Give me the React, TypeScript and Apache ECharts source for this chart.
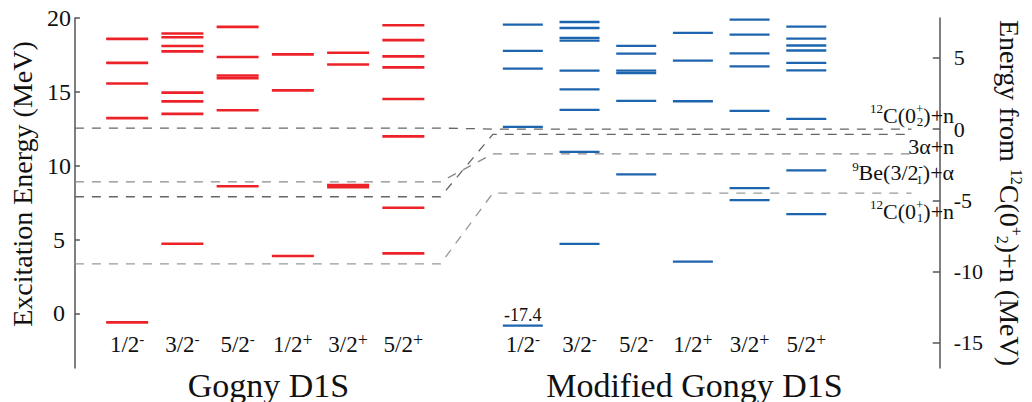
import React, { useEffect, useRef } from 'react';
import * as echarts from 'echarts';

// ---------------- data ----------------
const spinLabels = ['1/2{sm|-}', '3/2{sm|-}', '5/2{sm|-}', '1/2{sp|+}', '3/2{sp|+}', '5/2{sp|+}'];
const groupTitles = ['Gogny D1S', 'Modified Gongy D1S'];

// Gogny D1S: excitation energy (MeV), left axis
const gogny_1_2m = [18.59, 16.96, 15.57, 13.22, -0.6];
const gogny_3_2m = [18.95, 18.7, 18.1, 17.74, 14.95, 14.36, 13.51, 4.72];
const gogny_5_2m = [19.4, 17.36, 16.11, 15.93, 13.76, 8.61];
const gogny_1_2p = [17.54, 15.1, 3.89];
const gogny_3_2p = [17.65, 16.85, 8.69, 8.54];
const gogny_5_2p = [19.51, 18.5, 17.4, 16.66, 14.52, 11.99, 7.16, 4.07];
const gognyLevels = [gogny_1_2m, gogny_3_2m, gogny_5_2m, gogny_1_2p, gogny_3_2p, gogny_5_2p];

// Modified Gogny D1S: energy from 12C(0+2)+n (MeV), right axis
const mod_1_2m = [7.32, 5.49, 4.24, 0.16, -17.4];
const mod_3_2m = [7.51, 7.09, 6.4, 6.21, 4.1, 2.78, 1.34, -1.6, -8.05];
const mod_5_2m = [5.84, 5.29, 4.1, 3.93, 1.97, -3.18];
const mod_1_2p = [6.75, 4.8, 1.95, -9.3];
const mod_3_2p = [7.67, 6.63, 5.31, 4.4, 1.27, -4.15, -4.99];
const mod_5_2p = [7.18, 6.35, 5.86, 5.51, 4.64, 4.12, 0.72, -2.9, -5.96];
const modifiedLevels = [mod_1_2m, mod_3_2m, mod_5_2m, mod_1_2p, mod_3_2p, mod_5_2p];

// thresholds
const thresholdNames = [
  '{sup|12}C(0{sup|+}{subz|2})+n',
  '3α+n',
  '{sup|9}Be(3/2{sup|-}{subz|1})+α',
  '{sup|12}C(0{sup|+}{subz|1})+n',
];
const thresholdGogny = [12.55, 7.9, 8.91, 3.36];
const thresholdModified = [0, -0.37, -1.74, -4.5];

const leftTicks = [0, 5, 10, 15, 20];
const rightTicks = [-15, -10, -5, 0, 5];

// ---------------- layout ----------------
const FONT = 'Liberation Serif';
const LEFT = { min: -3.69, max: 20 };
const RIGHT = { min: -16.76, max: 7.79 };
const X_MIN = -0.946;
const X_MAX = 14.711;
const leftColX = (i: number) => i;
const rightColX = (i: number) => 7.163 + 1.0263 * i;
const THR_LEFT_END = 5.674;
const THR_RIGHT_START = 6.62;
const THR_RIGHT_END = 14.2;
const THR_LABEL_X = 14.97;
const thrLabelDy = [-14, 12, 19, 18];
const thrColors = ['#666', '#666', '#8a8a8a', '#999'];
const DISPLAY_FLOOR = -13.79;
const TITLE_X = [2.557, 10.27];
const RED = '#ec2228';
const BLUE = '#1c65ae';

const rightToLeft = (v: number) =>
  LEFT.min + ((v - RIGHT.min) / (RIGHT.max - RIGHT.min)) * (LEFT.max - LEFT.min);

const spinPositions = [
  ...spinLabels.map((_, i) => leftColX(i)),
  ...spinLabels.map((_, i) => rightColX(i)),
];

const richSmall = {
  sup: { fontSize: 13, fontFamily: FONT, verticalAlign: 'top', lineHeight: 26, fill: '#111' },
  subz: { fontSize: 13, fontFamily: FONT, verticalAlign: 'bottom', lineHeight: 26, width: 0, fill: '#111' },
};

function levelSeries(levels: number[][], colX: (i: number) => number, yAxisIndex: number, color: string, hw: number, lw: number) {
  const data: number[][] = [];
  levels.forEach((arr, i) => {
    arr.forEach((v) => data.push([colX(i), Math.max(v, DISPLAY_FLOOR), v]));
  });
  return {
    type: 'custom',
    xAxisIndex: 0,
    yAxisIndex,
    data,
    encode: { x: 0, y: 1 },
    renderItem: (params: any, api: any) => {
      const x = api.value(0);
      const y = api.value(1);
      const actual = api.value(2);
      const p = api.coord([x, y]);
      const children: any[] = [
        { type: 'line', shape: { x1: p[0] - hw, y1: p[1], x2: p[0] + hw, y2: p[1] }, style: { stroke: color, lineWidth: lw } },
      ];
      if (actual !== y) {
        children.push({
          type: 'text', x: p[0], y: p[1] - 11,
          style: { text: String(actual), fontSize: 18, fontFamily: FONT, fill: '#111', align: 'center', verticalAlign: 'middle' },
        });
      }
      return { type: 'group', children };
    },
  };
}

export default function App() {
  const ref = useRef<HTMLDivElement>(null);
  useEffect(() => {
    if (!ref.current) return;
    const chart = echarts.init(ref.current, undefined, { renderer: 'svg' });
    const thrData = thresholdNames.map((_, i) => [i, thresholdGogny[i]]);
    const option: any = {
      animation: false,
      grid: { left: 65, right: 73, top: 18, bottom: 31, containLabel: false },
      xAxis: [
        {
          type: 'value', min: X_MIN, max: X_MAX, position: 'bottom',
          axisLine: { show: false, onZero: false }, axisTick: { show: false }, splitLine: { show: false },
          axisLabel: {
            customValues: spinPositions, margin: -37, fontSize: 23, fontFamily: FONT, color: '#111',
            formatter: (v: number) => {
              let best = 0;
              spinPositions.forEach((p, i) => { if (Math.abs(p - v) < Math.abs(spinPositions[best] - v)) best = i; });
              return spinLabels[best % 6];
            },
            rich: {
              sm: { fontSize: 15, fontFamily: FONT, verticalAlign: 'top', lineHeight: 26, color: '#111' },
              sp: { fontSize: 18, fontFamily: FONT, verticalAlign: 'top', lineHeight: 26, color: '#111' },
            },
          },
        },
        {
          type: 'value', min: X_MIN, max: X_MAX, position: 'bottom', offset: 0,
          axisLine: { show: false, onZero: false }, axisTick: { show: false }, splitLine: { show: false },
          axisLabel: {
            customValues: TITLE_X, margin: 0, fontSize: 34, fontFamily: FONT, color: '#111',
            formatter: (v: number) => (Math.abs(v - TITLE_X[0]) < 1 ? groupTitles[0] : groupTitles[1]),
          },
        },
      ],
      yAxis: [
        {
          type: 'value', position: 'left', min: LEFT.min, max: LEFT.max, splitLine: { show: false },
          axisLine: { show: true, onZero: false, lineStyle: { color: '#555', width: 1.5 } },
          axisTick: { show: true, inside: true, length: 5, customValues: leftTicks, lineStyle: { color: '#555', width: 1.5 } },
          axisLabel: { customValues: leftTicks, align: 'center', margin: 16, fontSize: 24, fontFamily: FONT, color: '#111' },
          name: 'Excitation Energy (MeV)', nameLocation: 'middle', nameRotate: 90, nameGap: 30,
          nameTextStyle: { fontSize: 28, fontFamily: FONT, color: '#111', padding: [0, 0, 0, 18] },
        },
        {
          type: 'value', position: 'right', min: RIGHT.min, max: RIGHT.max, splitLine: { show: false },
          axisLine: { show: true, onZero: false, lineStyle: { color: '#555', width: 1.5 } },
          axisTick: { show: true, inside: true, length: 7, customValues: rightTicks, lineStyle: { color: '#555', width: 1.5 } },
          axisLabel: { customValues: rightTicks, align: 'left', margin: 14, fontSize: 22, fontFamily: FONT, color: '#111' },
          name: 'Energy from {sup|12}C(0{sup|+}{sub|2})+n (MeV)', nameLocation: 'middle', nameRotate: -90, nameGap: 46,
          nameTextStyle: {
            fontSize: 28, fontFamily: FONT, color: '#111',
            rich: {
              sup: { fontSize: 16, fontFamily: FONT, verticalAlign: 'top', lineHeight: 30, color: '#111' },
              sub: { fontSize: 16, fontFamily: FONT, verticalAlign: 'bottom', lineHeight: 30, color: '#111' },
            },
          },
        },
      ],
      series: [
        {
          type: 'custom', xAxisIndex: 0, yAxisIndex: 0, data: thrData, encode: { x: 0, y: 1 }, z: 1,
          renderItem: (params: any, api: any) => {
            const i = api.value(0);
            const gl = thresholdGogny[i];
            const rl = rightToLeft(thresholdModified[i]);
            const pts = [
              api.coord([X_MIN, gl]), api.coord([THR_LEFT_END, gl]),
              api.coord([THR_RIGHT_START, rl]), api.coord([THR_RIGHT_END, rl]),
            ];
            const lab = api.coord([THR_LABEL_X, rl]);
            return {
              type: 'group',
              children: [
                { type: 'polyline', shape: { points: pts }, style: { stroke: thrColors[i], lineWidth: 1.3, lineDash: [9, 8], fill: null } },
                {
                  type: 'text', x: lab[0], y: lab[1] + thrLabelDy[i],
                  style: { text: thresholdNames[i], fontSize: 22, fontFamily: FONT, fill: '#111', align: 'right', verticalAlign: 'middle', rich: richSmall },
                },
              ],
            };
          },
        },
        levelSeries(gognyLevels, leftColX, 0, RED, 21, 2.6),
        levelSeries(modifiedLevels, rightColX, 1, BLUE, 20, 2.3),
      ],
    };
    chart.setOption(option);
    return () => chart.dispose();
  }, []);
  return <div ref={ref} style={{ position: 'fixed', left: 0, top: 0, width: 1032, height: 402, background: '#fff' }} />;
}
